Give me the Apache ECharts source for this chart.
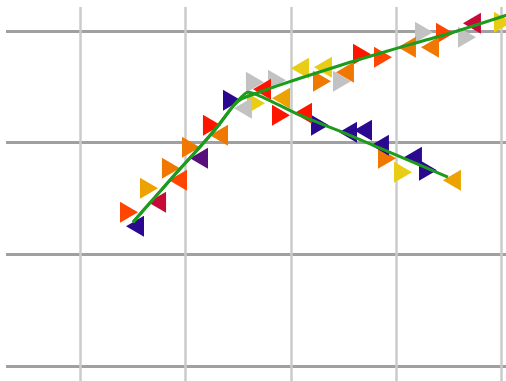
<!DOCTYPE html>
<html>
<head>
<meta charset="utf-8">
<script src="https://cdn.jsdelivr.net/npm/echarts@6/dist/echarts.min.js"></script>
<style>
  html, body { margin: 0; padding: 0; background: #ffffff; }
  #chart { width: 506px; height: 381px; }
</style>
</head>
<body>
<div id="chart"></div>
<script>
// Track vertices [x, y]; both paths share the rising section
const trackShared = [
  [0.503, 1.288], [0.712, 1.512], [0.911, 1.726], [1.110, 1.932], [1.300, 2.138], [1.452, 2.326]
];
const trackDescending = [
  [1.594, 2.451], [1.736, 2.406], [2.087, 2.245], [2.467, 2.102], [2.846, 1.950], [3.226, 1.798], [3.491, 1.691]
];
const trackAscending = [
  [1.528, 2.388], [1.670, 2.442], [2.087, 2.576], [2.562, 2.719], [3.036, 2.853], [3.510, 2.979], [4.100, 3.157]
];

// Direction markers [x, y, class]
const pointingRight = [
  [0.465, 1.377, 'redorange'], [0.655, 1.592, 'amber'], [0.863, 1.771, 'orange'],
  [1.053, 1.959, 'orange'], [1.252, 2.156, 'red'], [1.442, 2.379, 'indigo'],
  [1.660, 2.540, 'gray'], [1.670, 2.352, 'yellow'], [1.869, 2.558, 'gray'],
  [1.907, 2.245, 'red'], [2.296, 2.549, 'orange'], [2.486, 2.549, 'gray'],
  [2.676, 2.791, 'red'], [2.875, 2.764, 'redorange'], [3.264, 2.987, 'gray'],
  [3.463, 2.979, 'redorange'], [3.672, 2.943, 'gray'], [4.013, 3.077, 'yellow'],
  [2.277, 2.156, 'indigo'], [2.913, 1.860, 'orange'], [3.065, 1.735, 'yellow'],
  [3.302, 1.753, 'indigo']
];
const pointingLeft = [
  [0.522, 1.252, 'indigo'], [0.731, 1.467, 'crimson'], [0.930, 1.664, 'redorange'],
  [1.129, 1.860, 'purple'], [1.319, 2.066, 'orange'], [1.546, 2.308, 'gray'],
  [1.727, 2.478, 'red'], [1.907, 2.397, 'amber'], [2.116, 2.263, 'red'],
  [2.087, 2.665, 'yellow'], [2.305, 2.674, 'yellow'], [2.514, 2.630, 'orange'],
  [3.102, 2.853, 'orange'], [3.321, 2.853, 'orange'], [3.719, 3.068, 'crimson'],
  [2.543, 2.093, 'indigo'], [2.685, 2.111, 'indigo'], [2.846, 1.977, 'indigo'],
  [3.159, 1.869, 'indigo'], [3.529, 1.664, 'amber']
];

const classColors = {
  red: '#ff1400',
  redorange: '#ff4600',
  orange: '#f07800',
  amber: '#eca200',
  yellow: '#e9cc14',
  gray: '#c2c2c2',
  indigo: '#2a0890',
  purple: '#55107a',
  crimson: '#c80a38'
};

function markerData(list) {
  return list.map(function (d) {
    return { value: [d[0], d[1]], itemStyle: { color: classColors[d[2]], opacity: 1 } };
  });
}

const chart = echarts.init(document.getElementById('chart'), null, { renderer: 'canvas' });

const lineStyleGreen = { color: '#1c9c1c', width: 3 };
const markerSize = [21, 18];

chart.setOption({
  animation: false,
  backgroundColor: '#ffffff',
  grid: { left: 6, right: 0, top: 7, bottom: 0 },
  xAxis: {
    type: 'value',
    min: -0.702,
    max: 4.042,
    minInterval: 1,
    maxInterval: 1,
    axisLine: { show: false },
    axisTick: { show: false },
    axisLabel: { show: false },
    splitLine: {
      show: true,
      showMinLine: false,
      showMaxLine: false,
      lineStyle: { color: '#cbcbcb', width: 2.5 }
    }
  },
  yAxis: {
    type: 'value',
    min: -0.134,
    max: 3.214,
    minInterval: 1,
    maxInterval: 1,
    axisLine: { show: false },
    axisTick: { show: false },
    axisLabel: { show: false },
    splitLine: {
      show: true,
      showMinLine: false,
      showMaxLine: false,
      lineStyle: { color: '#a0a0a0', width: 3 }
    }
  },
  series: [
    {
      type: 'scatter',
      symbol: 'triangle',
      symbolSize: markerSize,
      symbolRotate: -90,
      itemStyle: { opacity: 1 },
      data: markerData(pointingRight),
      z: 2
    },
    {
      type: 'scatter',
      symbol: 'triangle',
      symbolSize: markerSize,
      symbolRotate: 90,
      itemStyle: { opacity: 1 },
      data: markerData(pointingLeft),
      z: 2
    },
    {
      type: 'line',
      data: trackShared.concat(trackDescending),
      showSymbol: false,
      smooth: 0.2,
      lineStyle: lineStyleGreen,
      z: 5
    },
    {
      type: 'line',
      data: trackShared.concat(trackAscending),
      showSymbol: false,
      smooth: 0.2,
      lineStyle: lineStyleGreen,
      z: 5
    }
  ]
});
</script>
</body>
</html>
